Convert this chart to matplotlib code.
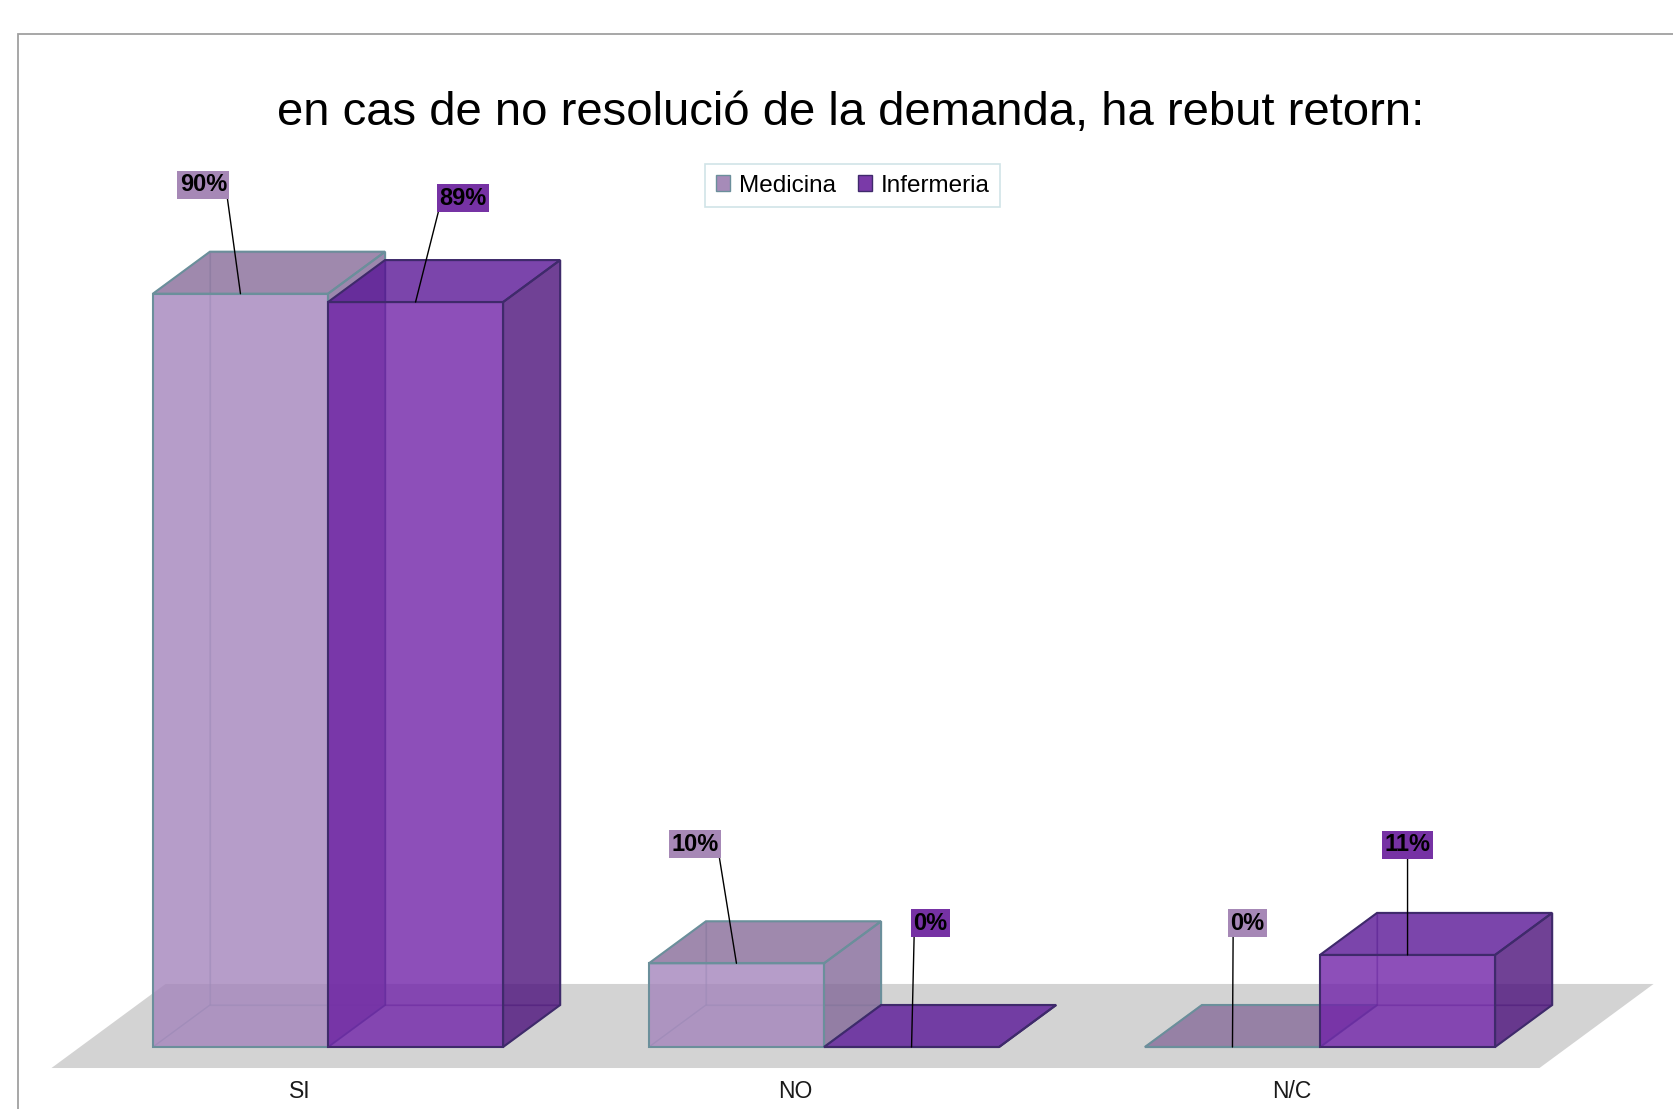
import matplotlib.pyplot as plt
from matplotlib.patches import Polygon, Patch, Rectangle

plt.rcParams['font.family'] = ['Liberation Sans', 'DejaVu Sans']

# data
categories = ['SI', 'NO', 'N/C']
series = ['Medicina', 'Infermeria']
medicina = [90, 10, 0]
infermeria = [89, 0, 11]
labels_med = ['90%', '10%', '0%']
labels_inf = ['89%', '0%', '11%']
title = 'en cas de no resolució de la demanda, ha rebut retorn:'

# look
bar_w = 0.353          # bar width in category units
dep_x, dep_y = 0.115, 5.02   # depth vector (x units, percent units)
colors = {
    'Medicina': dict(front='#a686bd', top='#886d9a', side='#846a99', edge='#6b8f9b',
                     label='#a688b6', legend='#a68bb8'),
    'Infermeria': dict(front='#7224aa', top='#5b1898', side='#4d127c', edge='#3f2a6b',
                       label='#7632a4', legend='#7a3aa8'),
}
# label offsets in pixels from top-front centre of the bar, and where the leader leaves the box
lab_off = {
    'Medicina': [(-37, 109, (1, 0)), (-41, 119, (1, 0)), (15, 124, (0.08, 0))],
    'Infermeria': [(47, 104, (0, 0)), (19, 124, (0.02, 0)), (0, 110, (0.5, 0))],
}

fig = plt.figure(figsize=(16.74, 11.09), dpi=100)
ax = fig.add_axes([0, 0, 1, 1])
ax.set_xlim(-0.6613, 2.7137)
ax.set_ylim(-7.407, 125.09)
ax.axis('off')

# chart frame
fig.patches.append(Rectangle((18 / 1674, -0.05), 1.2, 0.05 + 1 - 34 / 1109, transform=fig.transFigure,
                             fill=False, edgecolor='#a0a0a0', linewidth=1.3, zorder=0))

# floor
n = len(categories)
fx0, fx1 = -0.5, n - 0.5
floor = [(fx0 - 0.5 * dep_x, -0.5 * dep_y), (fx1 - 0.5 * dep_x, -0.5 * dep_y),
         (fx1 + 1.5 * dep_x, 1.5 * dep_y), (fx0 + 1.5 * dep_x, 1.5 * dep_y)]
ax.add_patch(Polygon(floor, closed=True, facecolor='#d3d3d3', edgecolor='none', zorder=1))


def draw_box(x0, h, c, z):
    w = bar_w
    dx, dy = dep_x, dep_y
    hidden = [
        [(x0, 0), (x0 + w, 0), (x0 + w + dx, dy), (x0 + dx, dy)],
        [(x0 + dx, dy), (x0 + w + dx, dy), (x0 + w + dx, h + dy), (x0 + dx, h + dy)],
        [(x0, 0), (x0 + dx, dy), (x0 + dx, h + dy), (x0, h)],
    ]
    for f in hidden:
        ax.add_patch(Polygon(f, closed=True, facecolor=c['side'], alpha=0.1,
                             edgecolor='none', zorder=z))
        ax.add_patch(Polygon(f, closed=True, fill=False, edgecolor=c['edge'], alpha=0.35,
                             linewidth=1.0, zorder=z))
    visible = [
        ([(x0, h), (x0 + w, h), (x0 + w + dx, h + dy), (x0 + dx, h + dy)], c['top']),
        ([(x0 + w, 0), (x0 + w + dx, dy), (x0 + w + dx, h + dy), (x0 + w, h)], c['side']),
        ([(x0, 0), (x0 + w, 0), (x0 + w, h), (x0, h)], c['front']),
    ]
    for f, col in visible:
        ax.add_patch(Polygon(f, closed=True, facecolor=col, alpha=0.78,
                             edgecolor='none', zorder=z + 0.1))
        ax.add_patch(Polygon(f, closed=True, fill=False, edgecolor=c['edge'],
                             linewidth=1.5, zorder=z + 0.2))


z = 2
for i in range(n):
    for k, (name, vals) in enumerate(zip(series, [medicina, infermeria])):
        x0 = i - bar_w + k * bar_w
        draw_box(x0, vals[i], colors[name], z)
        z += 1

# data labels
for k, (name, vals, labs) in enumerate(zip(series, [medicina, infermeria], [labels_med, labels_inf])):
    for i in range(n):
        xc = i - bar_w + k * bar_w + bar_w / 2
        ox, oy, rel = lab_off[name][i]
        ax.annotate(labs[i], xy=(xc, vals[i]), xytext=(ox, oy), textcoords='offset pixels',
                    ha='center', va='center', fontsize=17, fontweight='bold', color='black',
                    bbox=dict(boxstyle='square,pad=0.1', facecolor=colors[name]['label'],
                              edgecolor='none'),
                    arrowprops=dict(arrowstyle='-', color='black', linewidth=1.0,
                                    shrinkA=0, shrinkB=0, relpos=rel),
                    zorder=50)

# category labels
for i, cat in enumerate(categories):
    ax.text(i - 0.5 * dep_x, -5.26, cat, ha='center', va='center', fontsize=16.5, color='#1a1a1a')

# title
fig.text(851 / 1674, 1 - 113 / 1109, title, ha='center', va='center', fontsize=34, color='black')

# legend
handles = [Patch(facecolor=colors[s]['legend'], edgecolor=colors[s]['edge'], label=s) for s in series]
leg = fig.legend(handles=handles, loc='center', bbox_to_anchor=(852.5 / 1674, 1 - 185.5 / 1109),
                 ncol=2, fontsize=17.5, frameon=True, fancybox=False, handlelength=0.6,
                 handleheight=0.6, handletextpad=0.35, columnspacing=0.9, borderpad=0.45)
leg.get_frame().set_edgecolor('#c5dde2')
leg.get_frame().set_linewidth(1.2)

fig.savefig('out.png', dpi=100)
